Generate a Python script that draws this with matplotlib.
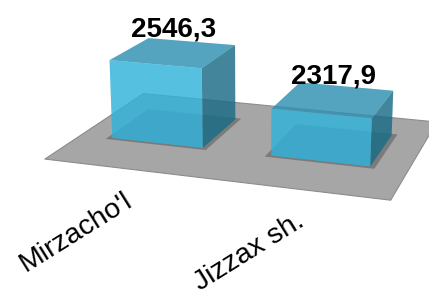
import numpy as np
import matplotlib
matplotlib.use('Agg')
import matplotlib.pyplot as plt
from mpl_toolkits.mplot3d.art3d import Poly3DCollection
from matplotlib.transforms import offset_copy

# ---- data ----
categories = ["Mirzacho'l", "Jizzax sh."]
values = [2546.3, 2317.9]
z_min, z_max = 2000, 2600

plt.rcParams['font.family'] = ['Liberation Sans', 'DejaVu Sans']

W, H = 429, 296
fig = plt.figure(figsize=(W / 100, H / 100), dpi=100)
S = 429
cx, cy = 244, 193.5
ax = fig.add_axes([(cx - S / 2) / W, (cy - S / 2) / H, S / W, S / H], projection='3d')
ax.set_proj_type('persp', focal_length=0.5)
ax.view_init(elev=16.5, azim=-71.5)
ax.computed_zorder = False
ax.set_axis_off()

n = len(categories)
pos = np.arange(n, dtype=float)
bar_w = 0.58
bar_d = 0.58
front_gap = 0.46
back_gap = 0.36
depth = front_gap + bar_d + back_gap
y0 = front_gap
fx0, fx1 = -0.5, n - 0.5

# floor
floor = Poly3DCollection([[(fx0, 0, z_min), (fx1, 0, z_min), (fx1, depth, z_min), (fx0, depth, z_min)]],
                         facecolor='#a6a6a6', edgecolor='#8c8c8c', linewidth=0.8, zorder=1)
ax.add_collection3d(floor)

# soft shadows under bars
pad = 0.03
shadows = []
for p in pos:
    shadows.append([(p - bar_w / 2 - pad, y0 - pad, z_min), (p + bar_w / 2 + pad, y0 - pad, z_min),
                    (p + bar_w / 2 + pad, y0 + bar_d + pad, z_min), (p - bar_w / 2 - pad, y0 + bar_d + pad, z_min)])
ax.add_collection3d(Poly3DCollection(shadows, facecolor=(0.35, 0.35, 0.35, 0.55), edgecolor='none', zorder=2))

# bars: faces -z, +z, -y, +y, -x, +x
bottom = (0.15, 0.55, 0.68, 0.20)
top = (0.19, 0.57, 0.70, 0.78)
front = (0.20, 0.71, 0.87, 0.78)
back = (0.15, 0.55, 0.68, 0.20)
left = (0.15, 0.55, 0.68, 0.20)
right = (0.10, 0.42, 0.52, 0.78)
face_cols = [bottom, top, front, back, left, right] * n
ax.bar3d(pos - bar_w / 2, np.full(n, y0), np.full(n, float(z_min)), bar_w, bar_d,
         np.array(values) - z_min, color=face_cols, shade=False, linewidth=0, zorder=3)

ax.set_xlim(fx0, fx1)
ax.set_ylim(0, depth)
ax.set_zlim(z_min, z_max)
ax.set_box_aspect((n, depth, 0.53), zoom=0.955)

for c in ax.collections:
    c.set_clip_on(False)

M = ax.get_proj()


def proj(x, y, z):
    v = M @ np.array([x, y, z, 1.0])
    return v[0] / v[3], v[1] / v[3]


for p, v in zip(pos, values):
    px, py = proj(p, y0 + bar_d / 2, v)
    ax.text2D(px, py, f"{v:.1f}".replace('.', ','), transform=offset_copy(ax.transData, fig=fig, x=0, y=16, units='dots'),
              ha='center', va='baseline', fontsize=20, fontweight='bold', color='black', zorder=5)

for p, cat in zip(pos, categories):
    px, py = proj(p, 0, z_min)
    ax.text2D(px, py, cat, transform=offset_copy(ax.transData, fig=fig, x=-2, y=-19, units='dots'),
              ha='right', va='top', rotation=32, rotation_mode='anchor', fontsize=20.5, color='black', zorder=5)

fig.savefig('out.png', dpi=100)
